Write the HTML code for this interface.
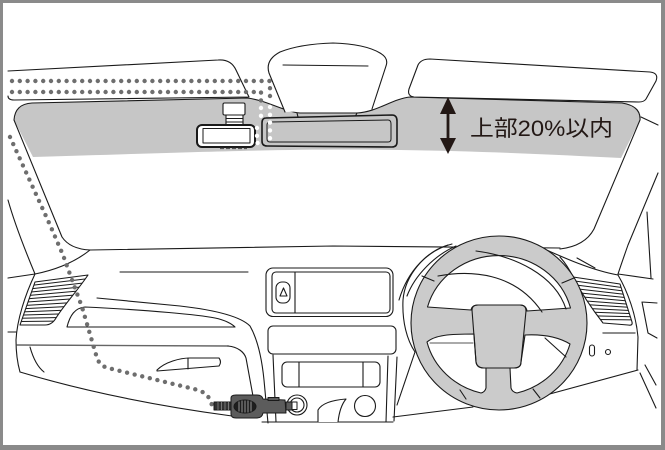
<!DOCTYPE html>
<html><head><meta charset="utf-8">
<style>
html,body{margin:0;padding:0;background:#fff;}
svg{display:block;}
</style></head><body>
<svg width="665" height="450" viewBox="0 0 665 450" xmlns="http://www.w3.org/2000/svg">
<defs>
<clipPath id="lv"><path d="M35,282 L88,275 C78,290 64,305 56,318 Q52,325 45,325 L20,325 Z"/></clipPath>
<clipPath id="rv"><path d="M573,277 L620,284 L632,322 Q633,326 628,325 L603,323 Q585,300 573,277 Z"/></clipPath>
</defs>
<rect x="0" y="0" width="665" height="450" fill="#fff"/>

<!-- windshield band -->
<path d="M14,120 Q15,104 32,103 L247,98 C266,100 285,112 300,113 L357,113 C377,112 392,99 410,97 L622,103 Q641,106 640,120 L621,158 C560,155 480,151 400,150 C300,148 200,152 33,157 Z" fill="#c6c6c6"/>

<g fill="none" stroke="#1a1a1a" stroke-width="1.1" stroke-linejoin="round" stroke-linecap="round">
 <!-- windshield outline -->
 <path d="M90,250 Q70,249 62,237 L14,120 Q15,104 32,103 L247,98 C266,100 285,112 300,113 L357,113 C377,112 392,99 410,97 L622,103 Q641,106 640,120 L594,229 Q585,246 560,249"/>
 <!-- left visor -->
 <path d="M8,71 L218,60 Q231,59 236,70 L249,97 L14,100 Q8,100 8,96" fill="#fff"/>
 <!-- right visor -->
 <path d="M430,59 L650,72 Q659,73 656,81 L646,99 Q644,102 639,102 L414,97 Q407,96 409,89 L418,65 Q421,59 430,59 Z" fill="#fff"/>
 <!-- mirror mount -->
 <path d="M285,112 L269,73 Q265,60 280,52 Q300,44 333,43 Q365,44 380,53 Q389,58 386,66 L372,109" fill="#fff"/>
 <path d="M283,65 L368,66"/>
 <path d="M297,113 L298,117 M357,113 L355,117"/>
 <!-- right pillar / door -->
 <path d="M641,117 L658,125"/>
 <path d="M658,173 L628,245 Q622,262 618,274"/>
 <path d="M647,212 L651,278"/>
 <path d="M618,274 L653,279"/>
 <path d="M642,302 L657,303 M642,302 L648,333 L657,338"/>
 <path d="M645,365 L656,385 M640,373 L656,408"/>
 <!-- left pillar / door -->
 <path d="M8,200 C15,225 25,250 35,274"/>
 <path d="M8,278 L35,274 C55,270 75,262 90,250"/>
 <path d="M35,274 C25,295 17,320 16,340 C16,355 18,365 20,372"/>
 <path d="M8,332 L16,332"/>
 <!-- dashboard top -->
 <path d="M90,250 L333,246 L560,248"/>
 <path d="M120,272 L248,272"/>
 <!-- left vent -->
 <path d="M35,282 L88,275 C78,290 64,305 56,318 Q52,325 45,325 L20,325 Z"/>
 <g clip-path="url(#lv)" stroke-width="1">
  <path d="M15,287.4 L95,277.8 M15,290.5 L95,281.7 M15,293.6 L95,285.6 M15,296.7 L95,289.5 M15,299.8 L95,293.4 M15,302.9 L95,297.3 M15,306 L95,301.2 M15,309.1 L95,305.1 M15,312.2 L95,309 M15,315.3 L95,312.9 M15,318.4 L95,316.8 M15,321.5 L95,320.7"/>
 </g>
 <!-- glovebox -->
 <path d="M17,345 L228,346" stroke="#666" stroke-width="1.4"/>
 <path d="M228,346 C238,347 244,352 246,358 L257,418"/>
 <path d="M30,347 Q35,365 44,372"/>
 <path d="M20,372 C80,390 150,405 232,416"/>
 <path d="M97,298 L180,306 C215,310 240,316 250,326 C258,340 262,360 264,380 L268,423"/>
 <path d="M67,327 C70,315 75,308 85,307 C150,310 200,315 215,318 C225,320 232,324 235,327 Z"/>
 <path d="M157,370 C165,362 180,358 190,358 L219,358 Q222,362 219,366 L157,371 Z"/>
 <path d="M188,358 L188,369"/>
 <!-- center console -->
 <rect x="266" y="268" width="127" height="48.5" rx="7"/>
 <rect x="272" y="272" width="118" height="41" rx="4"/>
 <path d="M295,272 L295,313"/>
 <rect x="276" y="282" width="14" height="21" rx="6"/>
 <path d="M280,296 L283.5,288 L287,296 Z"/>
 <rect x="268" y="326" width="128" height="28" rx="5"/>
 <rect x="282" y="362" width="98" height="25" rx="5"/>
 <path d="M299,362 L299,387 M363,362 L363,387"/>
 <path d="M273,355 L276,422 M388,356 L386,422 M397,357 L394,421"/>
 <path d="M262,422 L393,422"/>
 <path d="M318,422 L318,410 C322,403 333,400 346,399 C341,405 339,413 338,422" fill="#fff"/>
 <circle cx="365" cy="406" r="10.5" fill="#fff"/>
 <circle cx="297" cy="405" r="10" fill="#fff"/>
 <circle cx="297" cy="405" r="7"/>
 <!-- hood / left of wheel -->
 <path d="M448,245 C425,252 405,275 403,300 C402,322 407,340 415,352 L397,405"/>
 <path d="M452,244 C428,250 408,270 399,300"/>
 <path d="M456,246 C435,255 415,275 407,296"/>
 <path d="M393,417 L473,407"/>
 <!-- right dash -->
 <path d="M540,247 C560,256 590,270 618,275"/>
 <path d="M560,257 Q568,266 573,277"/>
 <path d="M577,258 L595,268"/>
 <path d="M573,277 L620,284 L632,322 Q633,326 628,325 L603,323 Q585,300 573,277 Z"/>
 <g clip-path="url(#rv)" stroke-width="1">
  <path d="M565,279.6 L640,290.1 M565,283.6 L640,293.1 M565,287.5 L640,296.1 M565,291.5 L640,299 M565,295.4 L640,302 M565,299.4 L640,305 M565,303.3 L640,308 M565,307.3 L640,311 M565,311.2 L640,313.9 M565,315.2 L640,316.9 M565,319.2 L640,319.9"/>
 </g>
 <path d="M618,275 C628,292 636,315 638,337 L637,370"/>
 <path d="M603,333 L635,333" stroke="#666" stroke-width="1.4"/>
 <rect x="589.5" y="345" width="5" height="11" rx="2.5"/>
 <circle cx="608" cy="352" r="2.5"/>
 <path d="M535,398 L638,370"/>
 <!-- inner lines behind wheel -->
 <path d="M430,343 L473,343" stroke="#555"/>
 <path d="M545,338 L566,357"/>
</g>

<!-- steering wheel -->
<g stroke="#1a1a1a" stroke-width="1.1" stroke-linejoin="round" stroke-linecap="round">
 <ellipse cx="499" cy="323" rx="88" ry="87" fill="#cbcbcb"/>
 <path d="M427.5,307 A74,70 0 0,1 570.5,308 L527,311 Q526,305 520,305 L478,305 Q472,305 471,310 Z" fill="#fff"/>
 <path d="M427,342 C435,335 450,334 474,334 L476,362 Q477,368 484,368 L486,368 L486,388 Q485,392 481,393 A74,70 0 0,1 427,342 Z" fill="#fff"/>
 <path d="M525,335 C545,334 560,338 570,344 A74,70 0 0,1 517,393 Q512,392 511,388 L510,368 L514,368 Q521,368 521,362 Z" fill="#fff"/>
 <path d="M472,310 Q472,305 478,305 L520,305 Q526,305 526,311 L521,362 Q521,368 514,368 L484,368 Q477,368 476,362 Z" fill="none"/>
 <g fill="none">
  <path d="M438,276 C470,270 515,272 542,312"/>
  <path d="M476,251 C515,256 555,275 566,309"/>
  <path d="M430,343 L473,343" stroke="#555"/>
  <path d="M545,338 L566,357"/>
  <path d="M422,276 L434,281 M562,283 L574,278 M460,390 L466,399 M533,389 L540,398"/>
 </g>
</g>

<!-- mirror -->
<path d="M266,118 L392,115 Q397,115 397,121 L397,142 Q397,147 392,147 L267,146 Q262,146 262,141 L262,123 Q262,118 266,118 Z" fill="#c6c6c6" stroke="#1a1a1a" stroke-width="1.6"/>
<path d="M270,122 L388,120 Q391,120 391,124 L391,139 Q391,142 388,142 L270,142 Q267,142 267,139 L267,125 Q267,122 270,122 Z" fill="none" stroke="#1a1a1a" stroke-width="1"/>

<!-- camera -->
<g stroke="#1a1a1a" stroke-linejoin="round">
 <rect x="223" y="103" width="22" height="12" rx="1.5" fill="#fff" stroke-width="1.1"/>
 <rect x="226" y="115" width="17" height="10" fill="#fff" stroke-width="1.1"/>
 <path d="M226,118.5 L243,118.5 M226,122 L243,122" stroke-width="0.9" fill="none"/>
 <rect x="197" y="125" width="58" height="22" rx="5" fill="#fff" stroke-width="2"/>
 <rect x="203" y="128.5" width="47" height="14.5" fill="none" stroke-width="1"/>
 <path d="M220,148.5 L247,148.5" stroke="#555" stroke-width="1.2" stroke-dasharray="4 2" fill="none"/>
</g>

<!-- dotted cables -->
<g fill="none" stroke-linecap="round" stroke-width="4.4" stroke-dasharray="0 7.8">
 <path d="M12,81 L270,81 L270,100" stroke="#6e6e6e"/>
 <path d="M12,92 L261,92 L261,101" stroke="#6e6e6e"/>
 <path d="M270,107 L270,143" stroke="#fff"/>
 <path d="M261,108 L261,118" stroke="#fff"/>
 <path d="M257,128 L257,143 L264,143" stroke="#fff"/>
 <path d="M10,137 L50,225 L63,255 Q72,280 82,307 L97,358 Q100,366 108,368 L198,390 Q210,394 212,406" stroke="#6e6e6e"/>
</g>

<!-- plug -->
<g stroke="#1a1a1a" stroke-width="1" stroke-linejoin="round">
 <rect x="214" y="402" width="17" height="8" fill="#333"/>
 <path d="M218,402 L218,410 M221.5,402 L221.5,410 M225,402 L225,410 M228.5,402 L228.5,410" stroke="#888" stroke-width="0.8"/>
 <path d="M231,398 Q231,395 236,395 L257,395 Q262,395 263,399 L285,400 L286,413 L263,413 Q262,418 257,418 L236,418 Q231,418 231,414 Z" fill="#5c5c5c"/>
 <rect x="268" y="397.5" width="11" height="3" fill="#5c5c5c"/>
 <ellipse cx="245" cy="406.5" rx="11" ry="6.5" fill="#1e1e1e"/>
 <path d="M239,401.5 L239,411.5 M242,400.5 L242,412.5 M245,400.5 L245,412.5 M248,400.5 L248,412.5 M251,401.5 L251,411.5" stroke="#8a8a8a" stroke-width="1.1"/>
 <rect x="286" y="402" width="7" height="8" fill="#5c5c5c"/>
 <rect x="292" y="402" width="5" height="7.5" fill="#fff"/>
</g>

<!-- arrow -->
<g fill="#231815" stroke="none">
 <rect x="446.6" y="108" width="2.8" height="36"/>
 <path d="M448,97 L440,114 L456,114 Z"/>
 <path d="M448,154 L440,138 L456,138 Z"/>
</g>
<text x="470" y="136" font-family="'Liberation Sans','Noto Sans CJK JP',sans-serif" font-size="22" fill="#231815" textLength="143" lengthAdjust="spacingAndGlyphs">上部20%以内</text>

<!-- frame -->
<rect x="1.5" y="1.5" width="661" height="445.5" fill="none" stroke="#8a8a8a" stroke-width="3"/>
<rect x="661" y="0" width="4" height="450" fill="#8a8a8a"/>
<rect x="0" y="445" width="665" height="5" fill="#8a8a8a"/>
</svg>
</body></html>
